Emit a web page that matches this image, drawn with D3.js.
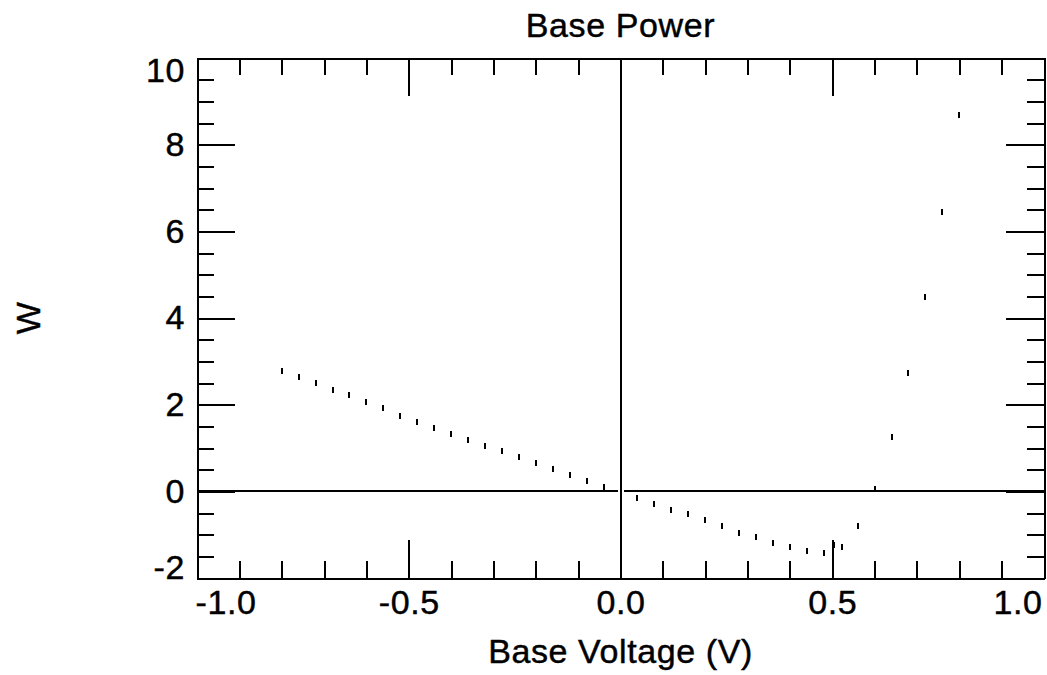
<!DOCTYPE html>
<html>
<head>
<meta charset="utf-8">
<script src="https://cdn.jsdelivr.net/npm/d3@7/dist/d3.min.js"></script>
<style>
body { margin: 0; background: #fff; }
svg { display: block; }
svg text { font-family: "Liberation Sans", Arial, sans-serif; font-size: 34px; letter-spacing: 0.6px;
           fill: #000; stroke: #000; stroke-width: 0.45px; }
</style>
</head>
<body>
<div id="chart"></div>
<script>
// values
var voltage = [-0.80, -0.76, -0.72, -0.68, -0.64, -0.60, -0.56, -0.52, -0.48, -0.44,
               -0.40, -0.36, -0.32, -0.28, -0.24, -0.20, -0.16, -0.12, -0.08, -0.04,
                0.04,  0.08,  0.12,  0.16,  0.20,  0.24,  0.28,  0.32,  0.36,  0.40,
                0.44,  0.48,  0.505, 0.524, 0.56,  0.60,  0.64,  0.68,  0.72,  0.76, 0.80];
var power =   [ 2.78,  2.64,  2.49,  2.35,  2.22,  2.07,  1.93,  1.75,  1.60,  1.46,
                1.32,  1.18,  1.04,  0.94,  0.80,  0.66,  0.52,  0.38,  0.23,  0.09,
               -0.15, -0.29, -0.43, -0.52, -0.67, -0.81, -0.95, -1.05, -1.19, -1.29,
               -1.38, -1.43, -1.24, -1.29, -0.81,  0.05,  1.26,  2.74,  4.48,  6.45, 8.68];

var xMajor = [-1.0, -0.5, 0.0, 0.5, 1.0];
var xLabels = ["-1.0", "-0.5", "0.0", "0.5", "1.0"];
var yMajor = [-2, 0, 2, 4, 6, 8, 10];
var yLabels = ["-2", "0", "2", "4", "6", "8", "10"];

var W = 1047, H = 675;
var margin = {top: 58, right: 3, bottom: 97, left: 197};
var w = W - margin.left - margin.right,
    h = H - margin.top - margin.bottom;
var bigTick = 38, smallTick = 17;

var svg = d3.select("#chart").append("svg")
    .attr("width", W).attr("height", H);

var g = svg.append("g")
    .attr("transform", "translate(" + margin.left + "," + margin.top + ")");

var x = d3.scaleLinear().domain([-1, 1]).range([0, w]);
var y = d3.scaleLinear().domain([-2, 10]).range([h, 0]);

var xMinor = d3.range(-10, 11).map(function(i) { return i / 10; })
    .filter(function(v) { return Math.abs(v * 2 - Math.round(v * 2)) > 1e-6; });
var yMinor = d3.range(-4, 21).map(function(i) { return i / 2; })
    .filter(function(v) { return Math.abs(v / 2 - Math.round(v / 2)) > 1e-6; });

// zero lines
g.append("line")
    .attr("x1", 0).attr("x2", w)
    .attr("y1", Math.round(y(0))).attr("y2", Math.round(y(0)))
    .attr("stroke", "#000").attr("stroke-width", 2);
g.append("line")
    .attr("x1", Math.round(x(0))).attr("x2", Math.round(x(0)))
    .attr("y1", 2).attr("y2", h - 2)
    .attr("stroke", "#fff").attr("stroke-width", 6);
g.append("line")
    .attr("x1", Math.round(x(0))).attr("x2", Math.round(x(0)))
    .attr("y1", 0).attr("y2", h)
    .attr("stroke", "#000").attr("stroke-width", 2);

function styleAxis(sel) {
  sel.selectAll("path, line").attr("stroke", "#000").attr("stroke-width", 2)
     .attr("shape-rendering", "crispEdges");
  sel.selectAll("text").attr("font-family", null).attr("font-size", null).attr("fill", null);
  sel.attr("font-family", null).attr("font-size", null);
}

// minor ticks
g.append("g").attr("transform", "translate(0," + h + ")")
  .call(d3.axisBottom(x).tickValues(xMinor).tickSize(-smallTick).tickSizeOuter(0).tickFormat(""))
  .call(styleAxis);
g.append("g")
  .call(d3.axisTop(x).tickValues(xMinor).tickSize(-smallTick).tickSizeOuter(0).tickFormat(""))
  .call(styleAxis);
g.append("g")
  .call(d3.axisLeft(y).tickValues(yMinor).tickSize(-smallTick).tickSizeOuter(0).tickFormat(""))
  .call(styleAxis);
g.append("g").attr("transform", "translate(" + w + ",0)")
  .call(d3.axisRight(y).tickValues(yMinor).tickSize(-smallTick).tickSizeOuter(0).tickFormat(""))
  .call(styleAxis);

// major ticks
var xAxis = g.append("g").attr("transform", "translate(0," + h + ")")
  .call(d3.axisBottom(x).tickValues(xMajor).tickSize(-bigTick).tickSizeOuter(0)
        .tickPadding(12).tickFormat(function(d, i) { return xLabels[i]; }))
  .call(styleAxis);
g.append("g")
  .call(d3.axisTop(x).tickValues(xMajor).tickSize(-bigTick).tickSizeOuter(0).tickFormat(""))
  .call(styleAxis);
var yAxis = g.append("g")
  .call(d3.axisLeft(y).tickValues(yMajor).tickSize(-bigTick).tickSizeOuter(0)
        .tickPadding(12).tickFormat(function(d, i) { return yLabels[i]; }))
  .call(styleAxis);
g.append("g").attr("transform", "translate(" + w + ",0)")
  .call(d3.axisRight(y).tickValues(yMajor).tickSize(-bigTick).tickSizeOuter(0).tickFormat(""))
  .call(styleAxis);

// end labels sit inside the frame
xAxis.selectAll(".tick text").filter(function(d) { return d === -1; })
    .attr("text-anchor", "start").attr("x", -2);
xAxis.selectAll(".tick text").filter(function(d) { return d === 1; })
    .attr("text-anchor", "end").attr("x", -2);
yAxis.selectAll(".tick text").filter(function(d) { return d === 10; })
    .attr("dy", "0.72em").attr("y", -1);
yAxis.selectAll(".tick text").filter(function(d) { return d === -2; })
    .attr("dy", "0em").attr("y", 0);

// points: short vertical dashes
g.append("g").selectAll("rect")
  .data(voltage)
  .enter().append("rect")
  .attr("x", function(d) { return Math.round(x(d)) - 1; })
  .attr("y", function(d, i) { return Math.round(y(power[i])) - 3; })
  .attr("width", 2)
  .attr("height", 6)
  .attr("fill", "#000")
  .attr("shape-rendering", "crispEdges");

// titles
svg.append("text")
    .attr("x", margin.left + w / 2).attr("y", 37)
    .attr("text-anchor", "middle")
    .text("Base Power");
svg.append("text")
    .attr("x", margin.left + w / 2).attr("y", 663)
    .attr("text-anchor", "middle")
    .text("Base Voltage (V)");
svg.append("text")
    .attr("transform", "translate(40," + (margin.top + h / 2) + ") rotate(-90)")
    .attr("text-anchor", "middle")
    .text("W");
</script>
</body>
</html>
